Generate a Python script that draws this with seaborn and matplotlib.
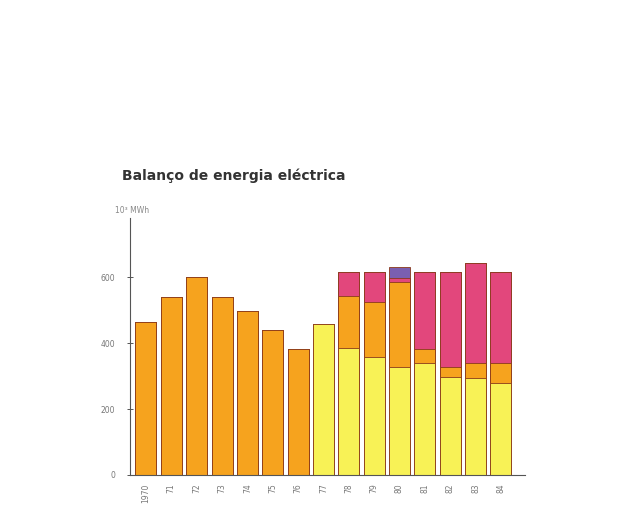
import matplotlib
matplotlib.use("Agg")
import matplotlib.pyplot as plt
import seaborn as sns
import numpy as np
import pandas as pd

years = ["1970", "71", "72", "73", "74", "75", "76", "77", "78", "79", "80", "81", "82", "83", "84"]
yellow = [0, 0, 0, 0, 0, 0, 0, 458, 385, 358, 327, 339, 297, 294, 279]
orange = [464, 539, 600, 539, 497, 439, 382, 0, 157, 166, 258, 43, 30, 45, 60]
pink = [0, 0, 0, 0, 0, 0, 0, 0, 73, 91, 12, 233, 288, 303, 276]
purple = [0, 0, 0, 0, 0, 0, 0, 0, 0, 0, 33, 0, 0, 0, 0]

sns.set_theme(style="white")
plt.rcParams['font.family'] = ['DejaVu Sans']

fig = plt.figure(figsize=(6.22, 5.16), dpi=100)
ax = fig.add_axes([0.209, 0.0795, 0.635, 0.4985])

c1 = np.array(yellow)
c2 = c1 + np.array(orange)
c3 = c2 + np.array(pink)
c4 = c3 + np.array(purple)

layers = [(c4, "#7a5fb0"), (c3, "#e2477c"), (c2, "#f6a31e"), (c1, "#f8f256")]
for vals, col in layers:
    df = pd.DataFrame({"year": years, "v": vals})
    sns.barplot(data=df, x="year", y="v", color=col, saturation=1, width=0.83,
                edgecolor="#8a3a1a", linewidth=0.6, ax=ax, order=years)

ax.set_xlim(-0.63, 14.95)
ax.set_ylim(0, 780)
ax.set_yticks([0, 200, 400, 600])
ax.set_yticklabels(["0", "200", "400", "600"], fontsize=5.5, color="#777777")
ax.set_xticks(range(len(years)))
ax.set_xticklabels(years, rotation=90, fontsize=5.5, color="#777777")
ax.set_xlabel("")
ax.set_ylabel("")
for s in ["top", "right"]:
    ax.spines[s].set_visible(False)
ax.spines["left"].set_color("#555555")
ax.spines["bottom"].set_color("#555555")
ax.spines["left"].set_linewidth(0.8)
ax.spines["bottom"].set_linewidth(0.8)
ax.tick_params(axis="y", direction="inout", length=5, width=0.7, color="#555555", pad=8, left=True)
ax.tick_params(axis="x", length=0, pad=6)

fig.text(0.196, 0.652, "Balanço de energia eléctrica", fontsize=10, fontweight="semibold", color="#333333")
fig.text(0.185, 0.587, "10³ MWh", fontsize=5.5, color="#888888")

fig.savefig("out.png", dpi=100)
